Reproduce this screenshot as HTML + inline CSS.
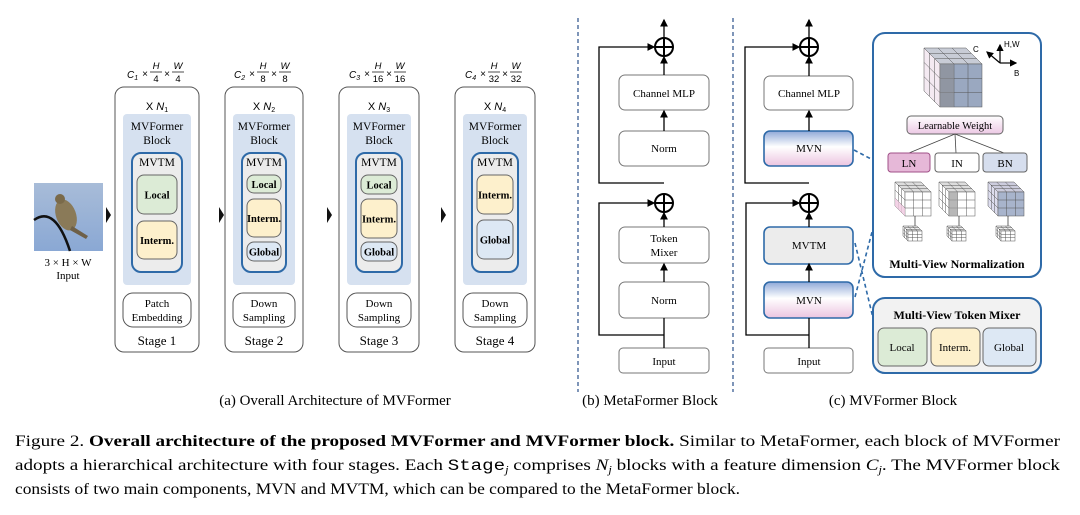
<!DOCTYPE html>
<html><head><meta charset="utf-8"><style>
html,body{margin:0;padding:0;background:#fff;}
svg{display:block;font-family:"Liberation Serif",serif;}
</style></head><body>
<svg id="s" width="1080" height="515" viewBox="0 0 1080 515" xmlns="http://www.w3.org/2000/svg">
<defs>
<linearGradient id="mvn" x1="0" y1="0" x2="0" y2="1">
<stop offset="0" stop-color="#8fa8d8"/><stop offset="0.45" stop-color="#ffffff"/><stop offset="1" stop-color="#ecc4e0"/></linearGradient>
<linearGradient id="lw" x1="0" y1="0" x2="0" y2="1">
<stop offset="0" stop-color="#ffffff"/><stop offset="1" stop-color="#ecc8e4"/></linearGradient>
<linearGradient id="sky" x1="0" y1="0" x2="0" y2="1">
<stop offset="0" stop-color="#a8bcd8"/><stop offset="1" stop-color="#8aa8d4"/></linearGradient>
<marker id="ar" markerWidth="6" markerHeight="6" refX="5" refY="3" orient="auto"><path d="M0,0 L6,3 L0,6z" fill="#000"/></marker>
</defs>
<g id="main"></g>
</svg>
<script>
const g=document.getElementById('main');let h='';
function T(x,y,t,s,extra){h+=`<text x="${x}" y="${y}" font-size="${s}" text-anchor="middle" ${extra||''}>${t}</text>`;}
function R(x,y,w,hh,rx,f,st,sw){h+=`<rect x="${x}" y="${y}" width="${w}" height="${hh}" rx="${rx}" fill="${f}" stroke="${st}" stroke-width="${sw||1}"/>`;}
function L(pts,arrow,sw,dash,col){h+=`<polyline points="${pts}" fill="none" stroke="${col||'#000'}" stroke-width="${sw||1.3}" ${dash?`stroke-dasharray="${dash}"`:''} ${arrow?'marker-end="url(#ar)"':''}/>`;}
function P(cx,cy){h+=`<circle cx="${cx}" cy="${cy}" r="9" fill="#fff" stroke="#000" stroke-width="2"/><line x1="${cx-9}" y1="${cy}" x2="${cx+9}" y2="${cy}" stroke="#000" stroke-width="2"/><line x1="${cx}" y1="${cy-9}" x2="${cx}" y2="${cy+9}" stroke="#000" stroke-width="2"/>`;}
// input image
h+=`<rect x="34" y="183" width="69" height="68" fill="url(#sky)"/>`;
h+=`<path d="M34,220 Q55,205 70,251" stroke="#111" stroke-width="2.5" fill="none"/>`;
h+=`<ellipse cx="66" cy="215" rx="10" ry="16" fill="#8a7a58" transform="rotate(-20 66 215)"/><ellipse cx="60" cy="199" rx="5" ry="5" fill="#7a6a4a"/><path d="M72,226 L88,236 L86,239 L70,230z" fill="#6e6048"/>`;
T(68,266,'3 × H × W',11);T(68,279,'Input',11);
// triangles
[[106,215],[219,215],[327,215],[441,215]].forEach(([x,y])=>h+=`<path d="M${x},${y-8} L${x+5},${y} L${x},${y+8}z" fill="#111"/>`);
// stages
const st=[{x:115,w:84,n:1,d:'4',d2:'4',b:['Patch','Embedding'],inner:[['Local',175,214,'#dcebd6'],['Interm.',221,259,'#fdf0cc']]},
{x:225,w:78,n:2,d:'8',d2:'8',b:['Down','Sampling'],inner:[['Local',175,193,'#dcebd6'],['Interm.',199,237,'#fdf0cc'],['Global',242,261,'#dde8f4']]},
{x:339,w:80,n:3,d:'16',d2:'16',b:['Down','Sampling'],inner:[['Local',175,194,'#dcebd6'],['Interm.',199,238,'#fdf0cc'],['Global',242,261,'#dde8f4']]},
{x:455,w:80,n:4,d:'32',d2:'32',b:['Down','Sampling'],inner:[['Interm.',175,214,'#fdf0cc'],['Global',220,259,'#dde8f4']]}];
const F='font-family="Liberation Sans,sans-serif"';
st.forEach(s=>{const cx=s.x+s.w/2;
 R(s.x,87,s.w,265,9,'#fff','#555',1);
 const x0=cx-30;
 h+=`<text x="${x0}" y="78" font-size="10" ${F} font-style="italic">C<tspan font-size="7" dy="2">${s.n}</tspan></text>`;
 h+=`<text x="${x0+18}" y="77" font-size="10" ${F} text-anchor="middle">×</text>`;
 h+=`<text x="${x0+29}" y="69" font-size="9.5" font-style="italic" ${F} text-anchor="middle">H</text><line x1="${x0+23}" y1="72" x2="${x0+35}" y2="72" stroke="#000" stroke-width="0.7"/><text x="${x0+29}" y="82" font-size="9.5" ${F} text-anchor="middle">${s.d}</text>`;
 h+=`<text x="${x0+40}" y="77" font-size="10" ${F} text-anchor="middle">×</text>`;
 h+=`<text x="${x0+51}" y="69" font-size="9.5" font-style="italic" ${F} text-anchor="middle">W</text><line x1="${x0+45}" y1="72" x2="${x0+57}" y2="72" stroke="#000" stroke-width="0.7"/><text x="${x0+51}" y="82" font-size="9.5" ${F} text-anchor="middle">${s.d2}</text>`;
 h+=`<text x="${cx}" y="110" font-size="11" text-anchor="middle" ${F}>X <tspan font-style="italic">N</tspan><tspan font-size="7" dy="2">${s.n}</tspan></text>`;
 R(s.x+8,114,s.w-16,171,4,'#d6e1f0','none');
 T(cx,130,'MVFormer',11.5);T(cx,144,'Block',11.5);
 R(s.x+17,153,s.w-34,119,9,'#ececec','#2e6aa8',2);
 T(cx,166,'MVTM',11.5);
 s.inner.forEach(([t,y1,y2,c])=>{R(s.x+22,y1,s.w-44,y2-y1,7,c,'#666',1);T(cx,(y1+y2)/2+4,t,10.5,'font-weight="bold"');});
 R(s.x+8,293,s.w-16,34,10,'#fff','#555',1);T(cx,307,s.b[0],11);T(cx,321,s.b[1],11);
 T(cx,345,'Stage '+s.n,13);
});
// dashed separators
L('578,18 578,392',0,1.2,'4,3','#2a4f8a');L('733,18 733,392',0,1.2,'4,3','#2a4f8a');
// (b) MetaFormer
const bx=619,bw=90,bc=664;
R(bx,75,bw,35,6,'#fff','#777');T(bc,97,'Channel MLP',11);
R(bx,131,bw,35,6,'#fff','#777');T(bc,152,'Norm',11);
R(bx,227,bw,36,6,'#fff','#777');T(bc,242,'Token',11);T(bc,256,'Mixer',11);
R(bx,282,bw,36,6,'#fff','#777');T(bc,304,'Norm',11);
R(bx,348,bw,25,4,'#fff','#777');T(bc,365,'Input',11);
P(bc,47);P(bc,203);
L(`${bc},38 ${bc},20`,1);L(`${bc},75 ${bc},57`,1);L(`${bc},131 ${bc},111`,1);L(`${bc},227 ${bc},213`,1);L(`${bc},282 ${bc},264`,1);L(`${bc},348 ${bc},318`,0);
L(`${bc},183 599,183 599,47 ${bc-10},47`,1);L(`${bc},335 599,335 599,203 ${bc-10},203`,1);
// (c) MVFormer block
const cx0=764,cw=89,cc=809;
R(cx0,76,cw,34,6,'#fff','#777');T(cc,97,'Channel MLP',11);
R(cx0,131,cw,35,6,'url(#mvn)','#2e6aa8',1.6);T(cc,152,'MVN',11);
R(cx0,227,cw,37,6,'#ececec','#2e6aa8',1.6);T(cc,249,'MVTM',11);
R(cx0,282,cw,36,6,'url(#mvn)','#2e6aa8',1.6);T(cc,304,'MVN',11);
R(cx0,348,cw,25,4,'#fff','#777');T(cc,365,'Input',11);
P(cc,47);P(cc,203);
L(`${cc},38 ${cc},20`,1);L(`${cc},76 ${cc},57`,1);L(`${cc},131 ${cc},111`,1);L(`${cc},227 ${cc},213`,1);L(`${cc},282 ${cc},264`,1);L(`${cc},348 ${cc},318`,0);
L(`${cc},183 745,183 745,47 ${cc-10},47`,1);L(`${cc},335 746,335 746,203 ${cc-10},203`,1);
// dashed connectors
L('854,150 873,160',0,1.6,'4,3','#2e6aa8');L('855,243 873,318',0,1.6,'4,3','#2e6aa8');L('855,297 872,232',0,1.6,'4,3','#2e6aa8');
// MVN panel
R(873,33,168,244,12,'#fff','#2e6aa8',2);
function cube(fx,fy,w,hh,d,cols){const dx=d,dy=d;
 h+=`<path d="M${fx},${fy} L${fx-dx},${fy-dy} L${fx+w-dx},${fy-dy} L${fx+w},${fy}z" fill="${cols[0]}" stroke="#555" stroke-width="0.5"/>`;
 h+=`<path d="M${fx},${fy} L${fx-dx},${fy-dy} L${fx-dx},${fy+hh-dy} L${fx},${fy+hh}z" fill="${cols[1]}" stroke="#555" stroke-width="0.5"/>`;
 h+=`<rect x="${fx}" y="${fy}" width="${w}" height="${hh}" fill="${cols[2]}" stroke="#555" stroke-width="0.5"/>`;
 for(let i=1;i<3;i++){h+=`<line x1="${fx+w*i/3}" y1="${fy}" x2="${fx+w*i/3}" y2="${fy+hh}" stroke="#555" stroke-width="0.5"/><line x1="${fx}" y1="${fy+hh*i/3}" x2="${fx+w}" y2="${fy+hh*i/3}" stroke="#555" stroke-width="0.5"/>`;
 h+=`<line x1="${fx-dx*i/3}" y1="${fy-dy*i/3}" x2="${fx+w-dx*i/3}" y2="${fy-dy*i/3}" stroke="#555" stroke-width="0.5"/><line x1="${fx+w*i/3}" y1="${fy}" x2="${fx+w*i/3-dx}" y2="${fy-dy}" stroke="#555" stroke-width="0.5"/>`;
 h+=`<line x1="${fx-dx*i/3}" y1="${fy-dy*i/3}" x2="${fx-dx*i/3}" y2="${fy+hh-dy*i/3}" stroke="#555" stroke-width="0.5"/><line x1="${fx}" y1="${fy+hh*i/3}" x2="${fx-dx}" y2="${fy+hh*i/3-dy}" stroke="#555" stroke-width="0.5"/>`;}
}
cube(940,64,42,43,16,['#c8ccd6','#f4eaf2','#9aa8c0']);
h+=`<rect x="940" y="64" width="14" height="43" fill="#8a8a8e" opacity="0.6"/>`;
L('1000,63 987,52',1,1.2);L('1000,63 1000,45',1,1.2);L('1000,63 1016,63',1,1.2);
h+=`<text x="973" y="52" font-size="8" ${F}>C</text><text x="1004" y="47" font-size="8" ${F}>H,W</text><text x="1014" y="76" font-size="8" ${F}>B</text>`;
R(907,116,96,18,4,'url(#lw)','#666');T(955,129,'Learnable Weight',10.5);
L('955,134 909,153',0,0.8,0,'#444');L('955,134 956,153',0,0.8,0,'#444');L('955,134 1004,153',0,0.8,0,'#444');
R(888,153,42,19,3,'#e6b8d8','#a05088');T(909,167,'LN',11);
R(935,153,44,19,3,'#fff','#666');T(957,167,'IN',11);
R(983,153,44,19,3,'#d6deee','#666');T(1005,167,'BN',11);
cube(905,192,26,24,10,['#ddd','#fff','#fff']);cube(949,192,26,24,10,['#ddd','#fff','#fff']);cube(998,192,26,24,10,['#ccd','#dde','#a8b4cc']);
h+=`<rect x="949" y="192" width="9" height="24" fill="#999" opacity="0.7"/><path d="M905,216 L895,206 L895,198 L905,208z" fill="#f0c8e0" opacity="0.8"/>`;
L('915,216 915,230',0,0.6);L('959,216 959,230',0,0.6);L('1008,216 1008,230',0,0.6);
cube(908,231,14,10,5,['#eee','#fff','#fff']);cube(952,231,14,10,5,['#eee','#fff','#fff']);cube(1001,231,14,10,5,['#eee','#fff','#fff']);
T(957,268,'Multi-View Normalization',12,'font-weight="bold"');
// token mixer panel
R(873,298,168,75,12,'#f2f2f2','#2e6aa8',2);
T(957,319,'Multi-View Token Mixer',12,'font-weight="bold"');
R(878,328,49,38,6,'#dcebd6','#666');T(902,351,'Local',11);
R(931,328,49,38,6,'#fdf0cc','#666');T(955,351,'Interm.',11);
R(983,328,53,38,6,'#dde8f4','#666');T(1009,351,'Global',11);
// captions
T(335,405,'(a) Overall Architecture of MVFormer',15);
T(650,405,'(b) MetaFormer Block',15);
T(893,405,'(c) MVFormer Block',15);
h+=`<text x="15" y="446" font-size="15.5" textLength="1045" lengthAdjust="spacingAndGlyphs">Figure 2. <tspan font-weight="bold">Overall architecture of the proposed MVFormer and MVFormer block.</tspan> Similar to MetaFormer, each block of MVFormer</text>`;
h+=`<text x="15" y="470" font-size="15.5" textLength="1045" lengthAdjust="spacingAndGlyphs">adopts a hierarchical architecture with four stages. Each <tspan font-family="Liberation Mono,monospace">Stage</tspan><tspan font-size="10" dy="3" font-style="italic">j</tspan><tspan dy="-3"> comprises </tspan><tspan font-style="italic">N</tspan><tspan font-size="10" dy="3" font-style="italic">j</tspan><tspan dy="-3"> blocks with a feature dimension </tspan><tspan font-style="italic">C</tspan><tspan font-size="10" dy="3" font-style="italic">j</tspan><tspan dy="-3">. The MVFormer block</tspan></text>`;
h+=`<text x="15" y="494" font-size="15.5" textLength="725" lengthAdjust="spacingAndGlyphs">consists of two main components, MVN and MVTM, which can be compared to the MetaFormer block.</text>`;
g.innerHTML=h;
</script>
</body></html>
